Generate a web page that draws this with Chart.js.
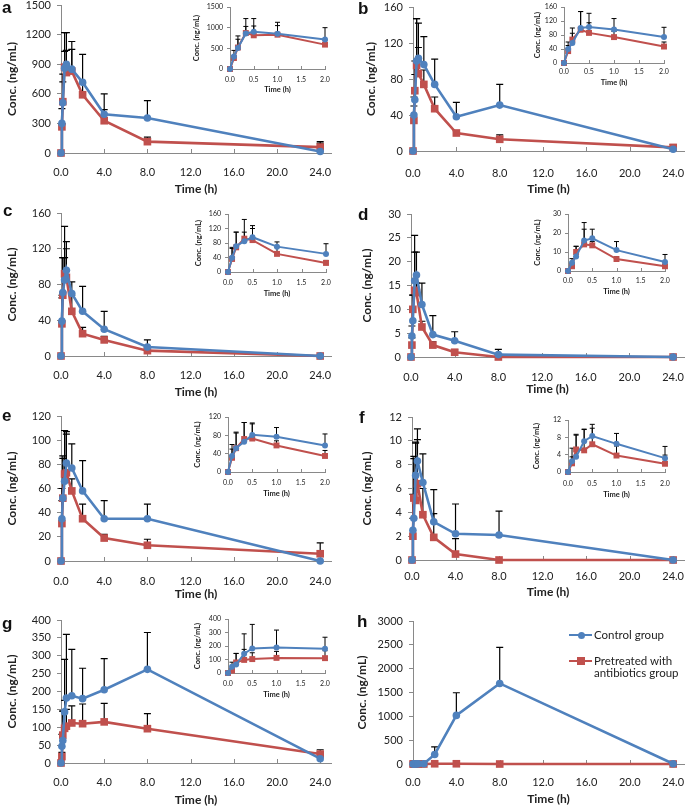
<!DOCTYPE html>
<html>
<head>
<meta charset="utf-8">
<script src="https://cdn.jsdelivr.net/npm/chart.js@4.4.1/dist/chart.umd.min.js"></script>
<style>
  html, body { margin: 0; padding: 0; background: #fff; }
  #fig { position: relative; width: 685px; height: 806px; overflow: hidden; }
  #fig canvas { position: absolute; }
  .tag { position: absolute; font: bold 17px "Liberation Sans", Arial, sans-serif; line-height: 17px; color: #111; }
  .legend { position: absolute; font: 11.5px Lato, sans-serif; line-height: 12px; color: #222; white-space: nowrap; }
</style>
</head>
<body>
<div id="fig"></div>
<script>
// sampling times (h)
const times = [0, 0.083, 0.167, 0.333, 0.5, 1, 2, 4, 8, 24];
const xTicks = [0, 4, 8, 12, 16, 20, 24];
const insetXTicks = [0, 0.5, 1, 1.5, 2];
const seriesNames = ['Control group', 'Pretreated with antibiotics group'];

// a
const aControl = [0, 300, 510, 860, 900, 850, 716, 392, 355, 15];
const aControlSD = [0, 150, 290, 360, 320, 280, 284, 208, 175, 100];
const aAbx = [0, 265, 520, 870, 815, 830, 590, 327, 115, 60];
const aAbxSD = [0, 30, 200, 160, 225, 220, 110, 113, 45, 40];
const aTicks = [0, 300, 600, 900, 1200, 1500];
const aInsetTicks = [0, 500, 1000, 1500];

// b
const bControl = [0, 40, 57, 100, 103, 96, 74, 38, 51, 2];
const bControlSD = [0, 20, 28, 47, 39, 31, 28, 16, 23, 2];
const bAbx = [0, 34, 67, 95, 86, 74, 47, 20, 13, 4];
const bAbxSD = [0, 16, 33, 52, 29, 16, 13, 2, 5, 3];
const bTicks = [0, 40, 80, 120, 160];
const bInsetTicks = [0, 40, 80, 120, 160];

// c
const cControl = [0, 39, 71, 85, 96, 70, 50, 30, 10, 0];
const cControlSD = [0, 26, 39, 60, 32, 13, 28, 20, 8, 0];
const cAbx = [0, 36, 68, 92, 88, 50, 25, 18, 6, 0];
const cAbxSD = [0, 32, 42, 18, 32, 18, 7, 4, 2, 0];
const cTicks = [0, 40, 80, 120, 160];
const cInsetTicks = [0, 40, 80, 120, 160];

// d
const dControl = [0, 4.4, 7.6, 16, 17.2, 11, 4.7, 3.4, 0.5, 0];
const dControlSD = [0, 2.1, 5.4, 9.5, 4.8, 4.5, 4.0, 1.9, 1.1, 0];
const dAbx = [0, 2.5, 10, 14, 13.5, 6.3, 2.5, 1.0, 0, 0];
const dAbxSD = [0, 1.5, 3, 8, 2, 1.2, 0.7, 0.5, 0.2, 0];
const dTicks = [0, 5, 10, 15, 20, 25, 30];
const dInsetTicks = [0, 10, 20, 30];

// e
const eControl = [0, 35, 52, 66, 81, 77, 58, 35, 35, 0];
const eControlSD = [0, 25, 35, 42, 26, 20, 25, 15, 12, 0];
const eAbx = [0, 31, 52, 72, 73, 58, 35, 19, 13, 6];
const eAbxSD = [0, 19, 33, 36, 32, 10, 12, 3, 5, 9];
const eTicks = [0, 20, 40, 60, 80, 100, 120];
const eInsetTicks = [0, 40, 80, 120];

// f
const fControl = [0, 2.5, 3.5, 7.1, 8.3, 6.5, 3.2, 2.2, 2.1, 0];
const fControlSD = [0, 3.0, 5.2, 2.8, 2.7, 2.4, 2.7, 2.5, 2.0, 0];
const fAbx = [0, 2.0, 5.2, 5.0, 6.4, 3.8, 1.9, 0.5, 0, 0];
const fAbxSD = [0, 1.5, 3.3, 4.8, 3.7, 2.2, 2.0, 1.3, 0, 0];
const fTicks = [0, 2, 4, 6, 8, 10, 12];
const fInsetTicks = [0, 4, 8, 12];

// g
const gControl = [0, 47, 63, 143, 182, 188, 180, 205, 262, 12];
const gControlSD = [0, 33, 82, 147, 178, 130, 85, 87, 103, 18];
const gAbx = [0, 18, 78, 97, 103, 112, 110, 115, 96, 25];
const gAbxSD = [0, 12, 67, 78, 47, 48, 55, 52, 42, 12];
const gTicks = [0, 50, 100, 150, 200, 250, 300, 350, 400];
const gInsetTicks = [0, 100, 200, 300, 400];

// h
const hControl = [0, 0, 0, 0, 5, 5, 200, 1020, 1690, 5];
const hControlSD = [0, 0, 0, 0, 0, 0, 160, 475, 755, 0];
const hAbx = [0, 0, 0, 0, 0, 0, 5, 5, 0, 0];
const hAbxSD = [0, 0, 0, 0, 0, 0, 0, 0, 0, 0];
const hTicks = [0, 500, 1000, 1500, 2000, 2500, 3000];

const BLUE = '#4F81BD';
const RED = '#C0504D';
const AXIS = '#898989';
const TEXT = '#222';
Chart.defaults.font.family = 'Lato, "Liberation Sans", sans-serif';
Chart.defaults.color = TEXT;

const fig = document.getElementById('fig');

// layout: plot = [left, top, right, bottom] in page pixels
const panels = [
  { tag: 'a', tagAt: [2, 13], control: aControl, controlSD: aControlSD, abx: aAbx, abxSD: aAbxSD, yTicks: aTicks, insetTicks: aInsetTicks,
    main: { plot: [61, 5, 331, 153], labelY: 172, titleY: 188, yTitleX: 13 },
    inset: { plot: [230, 7, 325, 69], labelY: 80, titleY: 89, yTitleX: 197 } },
  { tag: 'b', tagAt: [358, 14], control: bControl, controlSD: bControlSD, abx: bAbx, abxSD: bAbxSD, yTicks: bTicks, insetTicks: bInsetTicks,
    main: { plot: [413, 7, 684, 151], labelY: 173, titleY: 188, yTitleX: 372 },
    inset: { plot: [564, 7, 664, 63], labelY: 72, titleY: 82, yTitleX: 538 } },
  { tag: 'c', tagAt: [3, 216], control: cControl, controlSD: cControlSD, abx: cAbx, abxSD: cAbxSD, yTicks: cTicks, insetTicks: cInsetTicks,
    main: { plot: [61, 213, 331, 356], labelY: 375, titleY: 391, yTitleX: 13 },
    inset: { plot: [228, 214, 326, 272], labelY: 283, titleY: 293, yTitleX: 199 } },
  { tag: 'd', tagAt: [358, 220], control: dControl, controlSD: dControlSD, abx: dAbx, abxSD: dAbxSD, yTicks: dTicks, insetTicks: dInsetTicks,
    main: { plot: [411, 214, 684, 357], labelY: 377, titleY: 388, yTitleX: 368 },
    inset: { plot: [568, 214, 665, 271], labelY: 281, titleY: 291, yTitleX: 538 } },
  { tag: 'e', tagAt: [2, 421], control: eControl, controlSD: eControlSD, abx: eAbx, abxSD: eAbxSD, yTicks: eTicks, insetTicks: eInsetTicks,
    main: { plot: [61, 416, 331, 561], labelY: 581, titleY: 593, yTitleX: 13 },
    inset: { plot: [228, 417, 325, 472], labelY: 483, titleY: 493, yTitleX: 198 } },
  { tag: 'f', tagAt: [359, 423], control: fControl, controlSD: fControlSD, abx: fAbx, abxSD: fAbxSD, yTicks: fTicks, insetTicks: fInsetTicks,
    main: { plot: [412, 417, 684, 560], labelY: 576, titleY: 591, yTitleX: 368 },
    inset: { plot: [568, 420, 665, 472], labelY: 484, titleY: 494, yTitleX: 537 } },
  { tag: 'g', tagAt: [2, 629], control: gControl, controlSD: gControlSD, abx: gAbx, abxSD: gAbxSD, yTicks: gTicks, insetTicks: gInsetTicks,
    main: { plot: [61, 620, 331, 763], labelY: 782, titleY: 799, yTitleX: 13 },
    inset: { plot: [228, 619, 325, 673], labelY: 684, titleY: 694, yTitleX: 198 } },
  { tag: 'h', tagAt: [357, 627], control: hControl, controlSD: hControlSD, abx: hAbx, abxSD: hAbxSD, yTicks: hTicks, insetTicks: null,
    main: { plot: [413, 621, 684, 764], labelY: 782, titleY: 798, yTitleX: 363 },
    inset: null }
];

// error bars (upper only) + inward x tick marks, drawn with the chart's own scales
const errorBars = {
  id: 'errorBars',
  beforeDatasetsDraw(chart, args, opts) {
    const { ctx, scales: { x, y }, chartArea } = chart;
    ctx.save();
    ctx.strokeStyle = AXIS;
    ctx.lineWidth = 1;
    x.ticks.forEach(t => {
      const px = Math.round(x.getPixelForValue(t.value)) + 0.5;
      ctx.beginPath();
      ctx.moveTo(px, chartArea.bottom);
      ctx.lineTo(px, chartArea.bottom - opts.tick);
      ctx.stroke();
    });
    ctx.strokeStyle = '#000';
    ctx.lineWidth = opts.width;
    chart.data.datasets.forEach(ds => {
      ds.data.forEach((p, i) => {
        const sd = ds.sd[i];
        if (!sd) return;
        const px = x.getPixelForValue(p.x);
        const y0 = y.getPixelForValue(p.y);
        const y1 = y.getPixelForValue(p.y + sd);
        ctx.beginPath();
        ctx.moveTo(px, y0);
        ctx.lineTo(px, y1);
        ctx.moveTo(px - opts.cap, y1);
        ctx.lineTo(px + opts.cap, y1);
        ctx.stroke();
      });
    });
    ctx.restore();
  }
};

function points(vals, n) {
  return times.slice(0, n).map((t, i) => ({ x: t, y: vals[i] }));
}

function addChart(spec, p, small) {
  const [l, t, r, b] = spec.plot;
  const tickSize = small ? 7 : 11;
  const titleSize = small ? 7.5 : 12;
  const tickLH = tickSize * 1.2;
  const titleLH = titleSize * 1.2;
  const n = small ? 7 : times.length;
  const xVals = small ? insetXTicks : xTicks;
  const yVals = small ? p.insetTicks : p.yTicks;
  const xMax = small ? 2 : 25;

  const boxX = Math.floor(spec.yTitleX - titleLH / 2 - 2);
  const boxY = Math.floor(t - (small ? 6 : 10));
  const boxR = Math.ceil(r + (small ? 8 : 6));
  const boxB = Math.ceil(spec.titleY + titleLH / 2 + 2);
  const yAxisW = l - boxX;
  const xAxisH = boxB - b;

  const cv = document.createElement('canvas');
  cv.width = boxR - boxX;
  cv.height = boxB - boxY;
  cv.style.left = boxX + 'px';
  cv.style.top = boxY + 'px';
  fig.appendChild(cv);

  const tickFont = { size: tickSize };
  const titleFont = { size: titleSize, weight: 'bold' };

  new Chart(cv, {
    type: 'line',
    data: {
      datasets: [
        { label: seriesNames[0], data: points(p.control, n), sd: p.controlSD,
          borderColor: BLUE, backgroundColor: BLUE, pointBackgroundColor: BLUE, pointBorderColor: BLUE,
          pointStyle: 'circle', pointRadius: small ? 3 : 3.8, pointBorderWidth: 0,
          borderWidth: small ? 2 : 2.6, tension: 0, clip: false },
        { label: seriesNames[1], data: points(p.abx, n), sd: p.abxSD,
          borderColor: RED, backgroundColor: RED, pointBackgroundColor: RED, pointBorderColor: RED,
          pointStyle: 'rect', pointRadius: small ? 4.2 : 5.4, pointBorderWidth: 0,
          borderWidth: small ? 2 : 2.6, tension: 0, clip: false }
      ]
    },
    options: {
      responsive: false,
      animation: false,
      events: [],
      layout: { padding: { left: 0, right: boxR - r, top: t - boxY, bottom: 0 } },
      plugins: {
        legend: { display: false },
        tooltip: { enabled: false },
        errorBars: { width: small ? 1 : 1.2, cap: small ? 2.5 : 3.5, tick: small ? 3 : 4 }
      },
      scales: {
        x: {
          type: 'linear', min: 0, max: xMax, bounds: 'data',
          afterBuildTicks: s => { s.ticks = xVals.map(v => ({ value: v })); },
          afterFit: s => { s.height = xAxisH; s.paddingLeft = s.paddingRight = 0; },
          ticks: { font: tickFont, padding: spec.labelY - b - tickLH / 2, autoSkip: false, maxRotation: 0,
                   callback: v => v.toFixed(1) },
          grid: { display: true, drawOnChartArea: false, drawTicks: false },
          border: { color: AXIS, width: 1 },
          title: { display: true, text: 'Time (h)', font: titleFont, padding: { top: 0, bottom: 2 } }
        },
        y: {
          min: 0, max: yVals[yVals.length - 1], bounds: 'data',
          afterBuildTicks: s => { s.ticks = yVals.map(v => ({ value: v })); },
          afterFit: s => { s.width = yAxisW; s.paddingTop = s.paddingBottom = 0; },
          ticks: { font: tickFont, padding: small ? 4 : 6, autoSkip: false, callback: v => String(v) },
          grid: { display: true, drawOnChartArea: false, drawTicks: true, tickLength: small ? 3 : 4, color: AXIS },
          border: { color: AXIS, width: 1 },
          title: { display: true, text: 'Conc. (ng/mL)', font: titleFont, padding: { top: 2, bottom: 0 } }
        }
      }
    },
    plugins: [errorBars]
  });
}

panels.forEach(p => {
  addChart(p.main, p, false);
  if (p.inset) addChart(p.inset, p, true);
  const tag = document.createElement('div');
  tag.className = 'tag';
  tag.textContent = p.tag;
  tag.style.left = p.tagAt[0] + 'px';
  tag.style.top = (p.tagAt[1] - 14.4) + 'px';
  fig.appendChild(tag);
});

// legend for panel h
const legendRows = [
  { y: 635, color: BLUE, square: false, lines: ['Control group'] },
  { y: 661, color: RED, square: true, lines: ['Pretreated with', 'antibiotics group'] }
];
legendRows.forEach(row => {
  const line = document.createElement('div');
  line.style.cssText = `position:absolute;left:569px;top:${row.y - 1.25}px;width:23px;height:2.5px;background:${row.color}`;
  const mk = document.createElement('div');
  const s = row.square ? 7.5 : 7;
  mk.style.cssText = `position:absolute;left:${581 - s / 2}px;top:${row.y - s / 2}px;width:${s}px;height:${s}px;` +
    `background:${row.color};border-radius:${row.square ? 0 : 50}%`;
  const txt = document.createElement('div');
  txt.className = 'legend';
  txt.style.left = '594px';
  txt.style.top = (row.y - 6) + 'px';
  txt.innerHTML = row.lines.join('<br>');
  fig.appendChild(line);
  fig.appendChild(mk);
  fig.appendChild(txt);
});
</script>
</body>
</html>
